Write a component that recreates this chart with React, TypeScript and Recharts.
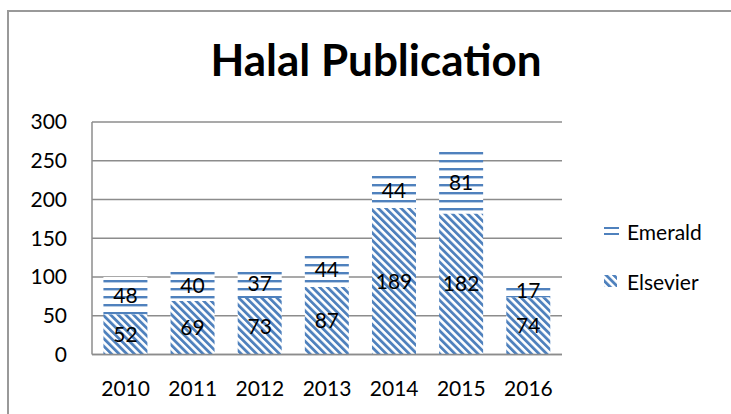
import React from "react";
import { BarChart, Bar, XAxis, YAxis, CartesianGrid, LabelList } from "recharts";

const years = ["2010", "2011", "2012", "2013", "2014", "2015", "2016"];
const elsevier = [52, 69, 73, 87, 189, 182, 74];
const emerald = [48, 40, 37, 44, 44, 81, 17];
const yTicks = [0, 50, 100, 150, 200, 250, 300];

const data = years.map((y, i) => ({ year: y, Elsevier: elsevier[i], Emerald: emerald[i] }));

const BLUE = "#4f81bd";
const GRID = "#8c8c8c";
const FONT = "Lato, 'Open Sans', sans-serif";

const LegendBox = () => (
  <div style={{ position: "absolute", left: 604, top: 217, fontFamily: FONT, fontSize: 21, color: "#000" }}>
    <div style={{ display: "flex", alignItems: "center", height: 28 }}>
      <svg width={15} height={12} style={{ marginRight: 8 }}>
        <rect x={0} y={2} width={15} height={2} fill={BLUE} />
        <rect x={0} y={8} width={15} height={2} fill={BLUE} />
      </svg>
      <span>Emerald</span>
    </div>
    <div style={{ height: 22 }} />
    <div style={{ display: "flex", alignItems: "center", height: 28 }}>
      <svg width={15} height={12} style={{ marginRight: 8 }}>
        <rect x={0} y={0} width={13} height={12} fill="url(#elsPattern)" />
      </svg>
      <span>Elsevier</span>
    </div>
  </div>
);

export default function App() {
  return (
    <div style={{ position: "absolute", left: 0, top: 0, width: 731, height: 414, background: "#fff", overflow: "hidden" }}>
      <div
        style={{
          position: "absolute",
          left: 7,
          top: 10,
          width: 800,
          height: 500,
          borderLeft: "2px solid #999",
          borderTop: "2px solid #999",
        }}
      />
      <div
        style={{
          position: "absolute",
          left: 0,
          top: 33,
          width: 752,
          textAlign: "center",
          fontFamily: FONT,
          fontWeight: 700,
          fontSize: 44,
          lineHeight: "52px",
          color: "#000",
        }}
      >
        Halal Publication
      </div>
      <div style={{ position: "absolute", left: 0, top: 0 }}>
        <BarChart
          width={731}
          height={414}
          data={data}
          margin={{ top: 122, right: 169, bottom: 0, left: 0 }}
          barCategoryGap="17%"
        >
          <defs>
            <pattern id="emePattern" patternUnits="userSpaceOnUse" width={8} height={8}>
              <rect x={0} y={0} width={8} height={8} fill="#fff" />
              <rect x={0} y={0} width={8} height={2.4} fill={BLUE} />
            </pattern>
            <pattern
              id="elsPattern"
              patternUnits="userSpaceOnUse"
              width={5.4}
              height={5.4}
              patternTransform="rotate(-45)"
            >
              <rect x={0} y={0} width={5.4} height={5.4} fill="#fff" />
              <rect x={0} y={0} width={2.8} height={5.4} fill={BLUE} />
            </pattern>
          </defs>
          <CartesianGrid vertical={false} stroke={GRID} strokeWidth={1.5} />
          <XAxis
            dataKey="year"
            height={59.5}
            tickLine={false}
            tickSize={0}
            tickMargin={27}
            axisLine={{ stroke: GRID, strokeWidth: 1.5 }}
            tick={{ fill: "#000", fontSize: 21, fontFamily: FONT }}
          />
          <YAxis
            width={92}
            domain={[0, 300]}
            ticks={yTicks}
            interval={0}
            tickLine={false}
            tickSize={0}
            tickMargin={25}
            axisLine={{ stroke: GRID, strokeWidth: 1.5 }}
            tick={{ fill: "#000", fontSize: 21, fontFamily: FONT }}
          />
          <Bar dataKey="Elsevier" stackId="a" fill="url(#elsPattern)" isAnimationActive={false}>
            <LabelList dataKey="Elsevier" position="center" fill="#000" fontSize={21} fontFamily={FONT} />
          </Bar>
          <Bar dataKey="Emerald" stackId="a" fill="url(#emePattern)" isAnimationActive={false}>
            <LabelList dataKey="Emerald" position="center" fill="#000" fontSize={21} fontFamily={FONT} />
          </Bar>
        </BarChart>
      </div>
      <LegendBox />
    </div>
  );
}
